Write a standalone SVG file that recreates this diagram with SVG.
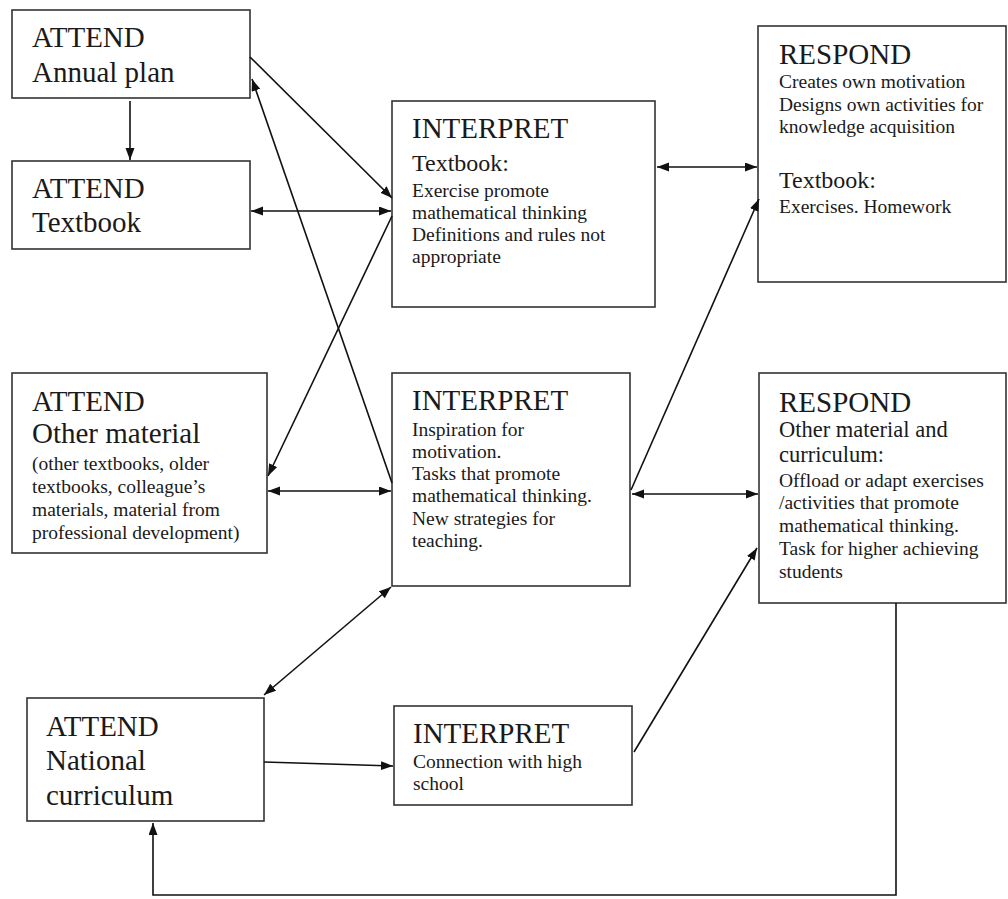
<svg xmlns="http://www.w3.org/2000/svg" width="1008" height="899" viewBox="0 0 1008 899">
<style>
.box{fill:#fff;stroke:#333;stroke-width:1.6}
text{font-family:"Liberation Serif","Times New Roman",serif;fill:#1a1a1a}
.h{font-size:29px}
.s{font-size:24px}
.s2{font-size:22.5px}
.b{font-size:19.5px}
.c{fill:none;stroke:#111;stroke-width:1.6}
</style>
<defs>
<marker id="ah" markerUnits="userSpaceOnUse" markerWidth="13" markerHeight="10" refX="12" refY="4.5" orient="auto-start-reverse">
<path d="M0,0 L12,4.5 L0,9 z" fill="#111"/>
</marker>
</defs>
<rect width="1008" height="899" fill="#fff"/>
<g id="attend-annual">
<rect class="box" x="12" y="10" width="238" height="88"/>
<text class="h" x="32" y="47">ATTEND</text>
<text class="h" x="32" y="82">Annual plan</text>
</g>
<g id="attend-textbook">
<rect class="box" x="12" y="161" width="238" height="88"/>
<text class="h" x="32" y="198">ATTEND</text>
<text class="h" x="32" y="232">Textbook</text>
</g>
<g id="attend-other">
<rect class="box" x="12" y="373" width="255" height="180"/>
<text class="h" x="32" y="411">ATTEND</text>
<text class="h" x="32" y="443">Other material</text>
<text class="b" x="32" y="470">(other textbooks, older</text>
<text class="b" x="32" y="493">textbooks, colleague’s</text>
<text class="b" x="32" y="516">materials, material from</text>
<text class="b" x="32" y="539">professional development)</text>
</g>
<g id="attend-national">
<rect class="box" x="27" y="698" width="237" height="123"/>
<text class="h" x="46" y="736">ATTEND</text>
<text class="h" x="46" y="770">National</text>
<text class="h" x="46" y="805">curriculum</text>
</g>
<g id="interpret-textbook">
<rect class="box" x="392" y="101" width="263" height="206"/>
<text class="h" x="412" y="138">INTERPRET</text>
<text class="s" x="412" y="171">Textbook:</text>
<text class="b" x="412" y="197">Exercise promote</text>
<text class="b" x="412" y="219">mathematical thinking</text>
<text class="b" x="412" y="241">Definitions and rules not</text>
<text class="b" x="412" y="263">appropriate</text>
</g>
<g id="interpret-other">
<rect class="box" x="392" y="373" width="238" height="213"/>
<text class="h" x="412" y="410">INTERPRET</text>
<text class="b" x="412" y="436">Inspiration for</text>
<text class="b" x="412" y="458">motivation.</text>
<text class="b" x="412" y="480">Tasks that promote</text>
<text class="b" x="412" y="502">mathematical thinking.</text>
<text class="b" x="412" y="525">New strategies for</text>
<text class="b" x="412" y="547">teaching.</text>
</g>
<g id="interpret-national">
<rect class="box" x="394" y="706" width="238" height="99"/>
<text class="h" x="413" y="743">INTERPRET</text>
<text class="b" x="413" y="768">Connection with high</text>
<text class="b" x="413" y="790">school</text>
</g>
<g id="respond-textbook">
<rect class="box" x="758" y="26" width="248" height="256"/>
<text class="h" x="779" y="64">RESPOND</text>
<text class="b" x="779" y="88">Creates own motivation</text>
<text class="b" x="779" y="111">Designs own activities for</text>
<text class="b" x="779" y="133">knowledge acquisition</text>
<text class="s" x="779" y="188">Textbook:</text>
<text class="b" x="779" y="213">Exercises. Homework</text>
</g>
<g id="respond-other">
<rect class="box" x="759" y="373" width="247" height="230"/>
<text class="h" x="779" y="412">RESPOND</text>
<text class="s2" x="779" y="437">Other material and</text>
<text class="s2" x="779" y="462">curriculum:</text>
<text class="b" x="779" y="487">Offload or adapt exercises</text>
<text class="b" x="779" y="509">/activities that promote</text>
<text class="b" x="779" y="532">mathematical thinking.</text>
<text class="b" x="779" y="555">Task for higher achieving</text>
<text class="b" x="779" y="578">students</text>
</g>
<g id="connectors">
<line class="c" x1="130" y1="101" x2="130" y2="160" marker-end="url(#ah)"/>
<line class="c" x1="250" y1="57" x2="392" y2="198" marker-end="url(#ah)"/>
<line class="c" x1="251" y1="211" x2="391" y2="211" marker-start="url(#ah)" marker-end="url(#ah)"/>
<line class="c" x1="392" y1="483" x2="252" y2="79" marker-end="url(#ah)"/>
<line class="c" x1="392" y1="216" x2="268" y2="476" marker-end="url(#ah)"/>
<line class="c" x1="268" y1="491" x2="391" y2="491" marker-start="url(#ah)" marker-end="url(#ah)"/>
<line class="c" x1="657" y1="167" x2="757" y2="167" marker-start="url(#ah)" marker-end="url(#ah)"/>
<line class="c" x1="631" y1="490" x2="759" y2="199" marker-end="url(#ah)"/>
<line class="c" x1="632" y1="494" x2="758" y2="494" marker-start="url(#ah)" marker-end="url(#ah)"/>
<line class="c" x1="634" y1="752" x2="757" y2="548" marker-end="url(#ah)"/>
<line class="c" x1="391" y1="587" x2="264" y2="695" marker-start="url(#ah)" marker-end="url(#ah)"/>
<line class="c" x1="264" y1="762" x2="393" y2="766" marker-end="url(#ah)"/>
<polyline class="c" points="896,603 896,895 153,895 153,823" marker-end="url(#ah)"/>
</g>
</svg>
